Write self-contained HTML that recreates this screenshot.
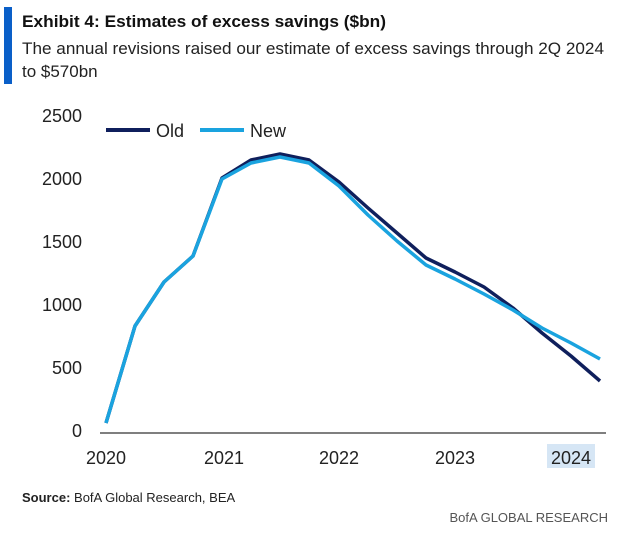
<!DOCTYPE html>
<html><head><meta charset="utf-8"><style>
body{margin:0;background:#fff;width:630px;height:532px;overflow:hidden;font-family:"Liberation Sans",sans-serif;}
</style></head><body>
<svg width="630" height="532" xmlns="http://www.w3.org/2000/svg" font-family="Liberation Sans, sans-serif">
<rect x="4" y="7" width="8" height="77" fill="#0a5fc8"/>
<text x="22" y="27" font-size="17" font-weight="bold" fill="#111" textLength="364" lengthAdjust="spacingAndGlyphs">Exhibit 4: Estimates of excess savings ($bn)</text>
<text x="22" y="54" font-size="17" fill="#222" textLength="582" lengthAdjust="spacingAndGlyphs">The annual revisions raised our estimate of excess savings through 2Q 2024</text>
<text x="22" y="77" font-size="17" fill="#222">to $570bn</text>
<g font-size="18" fill="#222" text-anchor="end">
<text x="82" y="122">2500</text><text x="82" y="185">2000</text><text x="82" y="248">1500</text>
<text x="82" y="311">1000</text><text x="82" y="374">500</text><text x="82" y="437">0</text>
</g>
<line x1="100" y1="433" x2="606" y2="433" stroke="#333" stroke-width="1.2"/>
<rect x="547" y="444" width="48" height="24" fill="#d6e6f5"/>
<g font-size="18" fill="#222" text-anchor="middle">
<text x="106" y="464">2020</text><text x="224" y="464">2021</text><text x="339" y="464">2022</text>
<text x="455" y="464">2023</text><text x="571" y="464">2024</text>
</g>
<line x1="106" y1="130" x2="150" y2="130" stroke="#0f1f5c" stroke-width="4"/>
<text x="156" y="137" font-size="18" fill="#222">Old</text>
<line x1="200" y1="130" x2="244" y2="130" stroke="#1aa3df" stroke-width="4"/>
<text x="250" y="137" font-size="18" fill="#222">New</text>
<polyline fill="none" stroke="#0f1f5c" stroke-width="3.5" stroke-linejoin="round" points="106,423 135,326 164,282 193,256 222,178 251,160 280,154 309,160 339,182 368,208 397,233 426,258 455,272 484,287 513,308 542,333 571,356 600,381"/>
<polyline fill="none" stroke="#1aa3df" stroke-width="3.5" stroke-linejoin="round" points="106,423 135,326 164,282 193,256 222,179 251,163 280,157 309,163 339,186 368,215 397,241 426,265 455,279 484,294 513,310 542,328 571,343 600,359"/>
<text x="22" y="502" font-size="13" fill="#222"><tspan font-weight="bold">Source:</tspan> BofA Global Research, BEA</text>
<text x="608" y="522" font-size="13" fill="#555" text-anchor="end">BofA GLOBAL RESEARCH</text>
</svg>
</body></html>
